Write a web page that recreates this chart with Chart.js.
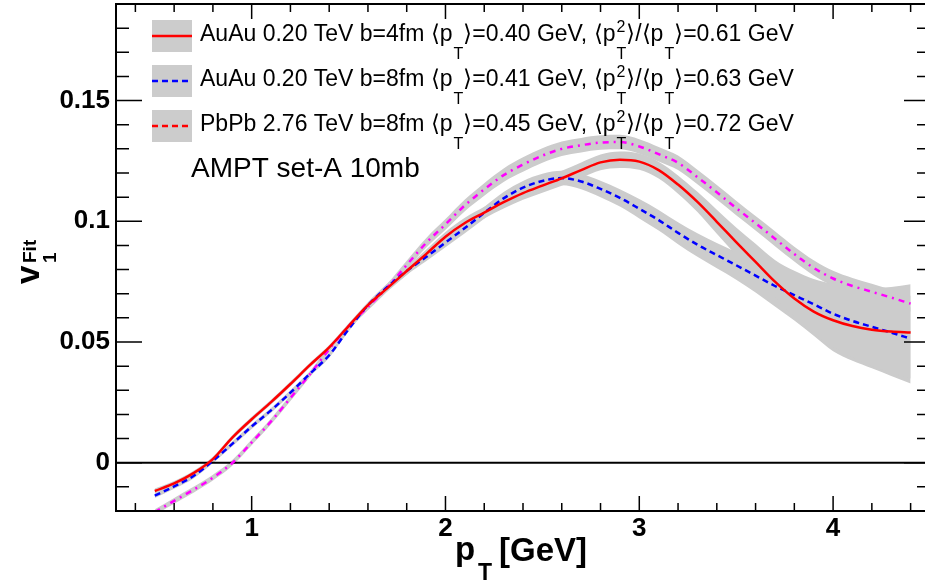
<!DOCTYPE html>
<html>
<head>
<meta charset="utf-8">
<script src="https://cdn.jsdelivr.net/npm/chart.js@4.4.1/dist/chart.umd.min.js"></script>
<style>
html, body { margin: 0; padding: 0; background: #fff; overflow: hidden; }
#wrap { width: 925px; height: 586px; overflow: hidden; position: relative; }
</style>
</head>
<body>
<div id="wrap"><canvas id="v1Chart" width="931" height="586"></canvas></div>
<script>
// v1 fit curves vs pT, AMPT set-A 10mb
const ptValues = [0.5, 0.6, 0.7, 0.8, 0.9, 1.0, 1.1, 1.2, 1.3, 1.4,
                  1.5, 1.6, 1.7, 1.8, 1.9, 2.0, 2.1, 2.2, 2.3, 2.4,
                  2.5, 2.6, 2.7, 2.8, 2.9, 3.0, 3.1, 3.2, 3.3, 3.4,
                  3.5, 3.6, 3.7, 3.8, 3.9, 4.0, 4.1, 4.2, 4.3, 4.4];

// AuAu 0.20 TeV b=4fm
const auau4 = [-0.0117, -0.0086, -0.0043, 0.0015, 0.0104, 0.0180, 0.0251, 0.0326, 0.0404, 0.0478,
               0.0566, 0.0653, 0.0723, 0.0794, 0.0864, 0.0936, 0.0993, 0.1036, 0.1079, 0.1117,
               0.1148, 0.1178, 0.1212, 0.1244, 0.1255, 0.1247, 0.1212, 0.1152, 0.1080, 0.0998,
               0.0914, 0.0832, 0.0750, 0.0680, 0.0626, 0.0590, 0.0566, 0.0551, 0.0543, 0.0539];
const auau4ErrHi = [0.001, 0.001, 0.001, 0.001, 0.001, 0.001, 0.001, 0.001, 0.001, 0.001,
                    0.001, 0.0012, 0.0014, 0.0016, 0.0018, 0.002, 0.0022, 0.0024, 0.0026, 0.0028,
                    0.003, 0.0031, 0.0032, 0.0033, 0.0034, 0.0034, 0.0035, 0.0038, 0.0042, 0.005,
                    0.006, 0.0075, 0.009, 0.0115, 0.0135, 0.015, 0.016, 0.0172, 0.0185, 0.020];
const auau4ErrLo = [0.001, 0.001, 0.001, 0.001, 0.001, 0.001, 0.001, 0.001, 0.001, 0.001,
                    0.001, 0.0012, 0.0014, 0.0016, 0.0018, 0.002, 0.0022, 0.0024, 0.0026, 0.0028,
                    0.003, 0.0031, 0.0032, 0.0033, 0.0034, 0.0034, 0.0035, 0.0038, 0.0042, 0.005,
                    0.0055, 0.006, 0.0065, 0.0075, 0.009, 0.011, 0.013, 0.015, 0.017, 0.019];

// AuAu 0.20 TeV b=8fm
const auau8 = [-0.0136, -0.0098, -0.0055, 0.0008, 0.0078, 0.0150, 0.0217, 0.0290, 0.0368, 0.0445,
               0.0553, 0.0652, 0.0728, 0.0794, 0.0852, 0.0912, 0.0972, 0.1035, 0.1095, 0.1139,
               0.1167, 0.1179, 0.1165, 0.1134, 0.1097, 0.1052, 0.1005, 0.0952, 0.0903, 0.0860,
               0.0818, 0.0775, 0.0732, 0.0694, 0.0656, 0.0617, 0.0587, 0.0563, 0.0539, 0.0514];
const auau8ErrHi = [0.001, 0.001, 0.001, 0.001, 0.001, 0.001, 0.001, 0.001, 0.001, 0.001,
                    0.001, 0.0012, 0.0014, 0.0016, 0.0018, 0.002, 0.0022, 0.0024, 0.0026, 0.0028,
                    0.003, 0.003, 0.0032, 0.0034, 0.0036, 0.004, 0.0042, 0.0044, 0.0047, 0.005,
                    0.0055, 0.006, 0.0065, 0.007, 0.008, 0.009, 0.010, 0.011, 0.012, 0.013];
const auau8ErrLo = [0.001, 0.001, 0.001, 0.001, 0.001, 0.001, 0.001, 0.001, 0.001, 0.001,
                    0.001, 0.0012, 0.0014, 0.0016, 0.0018, 0.002, 0.0022, 0.0024, 0.0026, 0.0028,
                    0.003, 0.003, 0.0032, 0.0034, 0.0036, 0.004, 0.0043, 0.0047, 0.005, 0.0055,
                    0.006, 0.007, 0.0085, 0.0105, 0.013, 0.0155, 0.0165, 0.0172, 0.018, 0.0186];

// PbPb 2.76 TeV b=8fm
const pbpb8 = [-0.0205, -0.0158, -0.0112, -0.0062, -0.0001, 0.0084, 0.0171, 0.0268, 0.0366, 0.0470,
               0.0565, 0.0645, 0.0726, 0.0819, 0.0910, 0.0987, 0.1066, 0.1132, 0.1191, 0.1235,
               0.1272, 0.1300, 0.1315, 0.1326, 0.1328, 0.1310, 0.1278, 0.1242, 0.1183, 0.1120,
               0.1055, 0.0992, 0.0928, 0.0864, 0.0807, 0.0763, 0.0732, 0.0708, 0.0684, 0.0659];
const pbpb8Err = [0.0012, 0.0012, 0.0012, 0.0012, 0.0012, 0.0012, 0.0012, 0.0012, 0.0012, 0.0012,
                  0.0012, 0.0014, 0.0016, 0.0018, 0.002, 0.0022, 0.0024, 0.0026, 0.0028, 0.003,
                  0.003, 0.003, 0.003, 0.003, 0.003, 0.003, 0.003, 0.003, 0.003, 0.003,
                  0.003, 0.003, 0.0031, 0.0031, 0.0032, 0.0032, 0.0033, 0.0033, 0.0033, 0.0033];

// legend text pieces
const systems = ['AuAu 0.20 TeV b=4fm', 'AuAu 0.20 TeV b=8fm', 'PbPb 2.76 TeV b=8fm'];
const meanPt = ['0.40', '0.41', '0.45'];
const ptRatio = ['0.61', '0.63', '0.72'];

const xMajorTicks = [1, 2, 3, 4];
const yMajorTicks = [0, 0.05, 0.1, 0.15];

const bandGray = 'rgb(204,204,204)';
const FONT = '"Liberation Sans", Arial, Helvetica, sans-serif';

function toPoints(vals) {
    return ptValues.map((x, i) => ({ x: x, y: vals[i] }));
}

function bandSets(center, errLo, errHi) {
    const lo = center.map((v, i) => v - errLo[i]);
    const hi = center.map((v, i) => v + errHi[i]);
    return [
        { data: toPoints(lo), borderWidth: 0, borderColor: 'transparent', pointRadius: 0,
          fill: false, order: 10, cubicInterpolationMode: 'monotone' },
        { data: toPoints(hi), borderWidth: 0, borderColor: 'transparent', pointRadius: 0,
          fill: '-1', backgroundColor: bandGray, order: 10, cubicInterpolationMode: 'monotone' }
    ];
}

function curveSet(vals, color, dash) {
    return { data: toPoints(vals), borderColor: color, borderWidth: 2.5, borderDash: dash,
             pointRadius: 0, fill: false, order: 1, cubicInterpolationMode: 'monotone' };
}

// draws text with ROOT-like sub/superscripts, segments: [text, kind]
function drawRich(ctx, x, y, segs, size, weight) {
    const small = Math.round(size * 0.7);
    const w = weight ? weight + ' ' : '';
    segs.forEach(s => {
        if (s[1] === 'n') {
            ctx.font = w + size + 'px ' + FONT;
            ctx.fillText(s[0], x, y);
            x += ctx.measureText(s[0]).width;
        } else if (s[1] === 'sub') {
            ctx.font = w + small + 'px ' + FONT;
            ctx.fillText(s[0], x + 1, y + size * 0.78);
            x += ctx.measureText(s[0]).width + 1;
        } else if (s[1] === 'ss') {
            ctx.font = w + small + 'px ' + FONT;
            ctx.fillText(s[0], x + 1, y + size * 0.78);
            ctx.fillText(s[2], x + 1, y - size * 0.38);
            x += Math.max(ctx.measureText(s[0]).width, ctx.measureText(s[2]).width) + 1;
        }
    });
    return x;
}

const rootStyle = {
    id: 'rootStyle',
    beforeDatasetsDraw(chart) {
        const ctx = chart.ctx, area = chart.chartArea;
        const y0 = chart.scales.y.getPixelForValue(0);
        ctx.save();
        ctx.strokeStyle = '#000';
        ctx.lineWidth = 2;
        ctx.beginPath();
        ctx.moveTo(area.left, y0);
        ctx.lineTo(area.right, y0);
        ctx.stroke();
        ctx.restore();
    },
    afterDraw(chart) {
        const ctx = chart.ctx, area = chart.chartArea;
        const xs = chart.scales.x, ys = chart.scales.y;
        ctx.save();
        ctx.strokeStyle = '#000';
        ctx.lineWidth = 2;
        ctx.strokeRect(area.left, area.top, area.right - area.left, area.bottom - area.top);

        // ticks on all four sides, pointing inward
        ctx.lineWidth = 1.5;
        ctx.beginPath();
        for (let k = 2; k <= 22; k++) {
            const v = k * 0.2;
            const px = xs.getPixelForValue(v);
            const len = xMajorTicks.some(t => Math.abs(t - v) < 1e-6) ? 15 : 8;
            ctx.moveTo(px, area.bottom); ctx.lineTo(px, area.bottom - len);
            ctx.moveTo(px, area.top); ctx.lineTo(px, area.top + len);
        }
        for (let k = -2; k <= 19; k++) {
            const v = k * 0.01;
            const py = ys.getPixelForValue(v);
            const len = yMajorTicks.some(t => Math.abs(t - v) < 1e-6) ? 26 : 13;
            ctx.moveTo(area.left, py); ctx.lineTo(area.left + len, py);
            ctx.moveTo(area.right, py); ctx.lineTo(area.right - len, py);
        }
        ctx.stroke();

        // legend
        ctx.fillStyle = '#000';
        ctx.textBaseline = 'alphabetic';
        const rowBase = [41, 86, 131];
        const lineStyles = [
            { color: '#ff0000', dash: [] },
            { color: '#0000ff', dash: [6, 4] },
            { color: '#ff0000', dash: [6, 4] }
        ];
        systems.forEach((sys, i) => {
            const cy = rowBase[i] - 5;
            ctx.fillStyle = bandGray;
            ctx.fillRect(152, cy - 16, 40, 32);
            ctx.strokeStyle = lineStyles[i].color;
            ctx.lineWidth = 2.5;
            ctx.setLineDash(lineStyles[i].dash);
            ctx.beginPath();
            ctx.moveTo(152, cy); ctx.lineTo(192, cy);
            ctx.stroke();
            ctx.setLineDash([]);
            ctx.fillStyle = '#000';
            drawRich(ctx, 200, rowBase[i], [
                [sys + ' \u27E8p', 'n'], ['T', 'sub'],
                ['\u27E9=' + meanPt[i] + ' GeV, \u27E8p', 'n'], ['T', 'ss', '2'],
                ['\u27E9/\u27E8p', 'n'], ['T', 'sub'],
                ['\u27E9=' + ptRatio[i] + ' GeV', 'n']
            ], 23, '');
        });

        ctx.font = '28px ' + FONT;
        ctx.fillText('AMPT set-A 10mb', 191, 177);

        // x axis title
        ctx.font = 'bold 33px ' + FONT;
        ctx.fillText('p', 455, 560);
        ctx.font = 'bold 23px ' + FONT;
        ctx.fillText('T', 478, 580);
        ctx.font = 'bold 33px ' + FONT;
        ctx.fillText('[GeV]', 499, 561);

        // y axis title, rotated
        ctx.translate(39, 284);
        ctx.rotate(-Math.PI / 2);
        ctx.font = 'bold 33px ' + FONT;
        ctx.fillText('v', 0, 0);
        ctx.font = 'bold 19px ' + FONT;
        ctx.fillText('1', 21, 17);
        ctx.fillText('Fit', 21, -3);
        ctx.restore();
    }
};

const datasets = [].concat(
    bandSets(auau4, auau4ErrLo, auau4ErrHi),
    bandSets(auau8, auau8ErrLo, auau8ErrHi),
    bandSets(pbpb8, pbpb8Err, pbpb8Err),
    [curveSet(auau4, '#ff0000', []),
     curveSet(auau8, '#0000ff', [6, 4]),
     curveSet(pbpb8, '#ff00ff', [6, 5, 2, 5])]
);

new Chart(document.getElementById('v1Chart'), {
    type: 'line',
    data: { datasets: datasets },
    options: {
        responsive: false,
        devicePixelRatio: 1,
        animation: false,
        layout: { padding: { left: 0, top: 4, right: 1, bottom: 0 } },
        plugins: {
            legend: { display: false },
            tooltip: { enabled: false },
            filler: { drawTime: 'beforeDatasetsDraw' }
        },
        scales: {
            x: {
                type: 'linear', min: 0.3, max: 4.5,
                grid: { display: false, drawTicks: false },
                border: { display: false },
                ticks: {
                    stepSize: 1, includeBounds: false, padding: 2, color: '#000',
                    font: { family: FONT, size: 26, weight: 'bold' }
                },
                afterFit(scale) {
                    scale.height = 75;
                    scale.paddingLeft = 0;
                    scale.paddingRight = 0;
                }
            },
            y: {
                type: 'linear', min: -0.02, max: 0.19,
                grid: { display: false, drawTicks: false },
                border: { display: false },
                ticks: {
                    stepSize: 0.05, includeBounds: false, padding: 6, color: '#000',
                    font: { family: FONT, size: 26, weight: 'bold' },
                    callback: v => String(Number(v.toFixed(2)))
                },
                afterFit(scale) {
                    scale.width = 116;
                    scale.paddingTop = 0;
                    scale.paddingBottom = 0;
                }
            }
        }
    },
    plugins: [rootStyle]
});
</script>
</body>
</html>
